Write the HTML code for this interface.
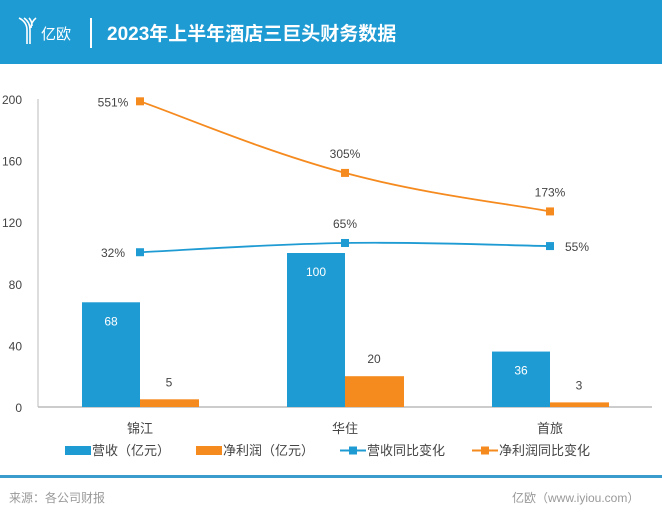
<!DOCTYPE html>
<html><head><meta charset="utf-8"><style>
body{margin:0;width:662px;height:519px;background:#fff;font-family:"Liberation Sans","Noto Sans CJK SC",sans-serif;overflow:hidden;position:relative}
.hdr{position:absolute;left:0;top:0;width:662px;height:64px;background:#1f9bd3}
.t{position:absolute;color:#fff}
.foot{position:absolute;font-size:12px;color:#999;top:489px}
</style></head><body>
<div class="hdr">
<svg width="30" height="30" style="position:absolute;left:17px;top:16px"><path d="M2 2 Q10 6 10 14 L10 28 M7 2 Q13 6 13 14 L13 28 M12 2 Q15 5 15 10 M19 2 Q14 6 14 12" stroke="#fff" stroke-width="1.6" fill="none"/></svg>
<div class="t" style="left:41px;top:23px;font-size:15px">亿欧</div>
<div style="position:absolute;left:90px;top:18px;width:2px;height:30px;background:#fff"></div>
<div class="t" style="left:107px;top:19px;font-size:19px;font-weight:bold">2023年上半年酒店三巨头财务数据</div>
</div>
<svg id="c" width="662" height="519" style="position:absolute;left:0;top:0"></svg>
<div style="position:absolute;left:0;top:475px;width:662px;height:3px;background:#3a9ccd"></div>
<div class="foot" style="left:9px">来源：各公司财报</div>
<div class="foot" style="left:512px">亿欧（www.iyiou.com）</div>
<script>
const categories=["锦江","华住","首旅"];
const revenue=[68,100,36];
const profit=[5,20,3];
const revGrowth=[100.5,106.5,104.5];
const revGrowthLabels=["32%","65%","55%"];
const profitGrowth=[198.5,152,127];
const profitGrowthLabels=["551%","305%","173%"];
const yTicks=[0,40,80,120,160,200];
const NS="http://www.w3.org/2000/svg";
const svg=document.getElementById('c');
const y=v=>407-v*1.54;
const xc=i=>140+i*205;
function el(tag,a,txt){const e=document.createElementNS(NS,tag);for(const k in a)e.setAttribute(k,a[k]);if(txt!=null)e.textContent=txt;svg.appendChild(e);return e;}
yTicks.forEach(t=>{const e=el('text',{x:22,y:y(t)+5,'text-anchor':'end','font-size':12,fill:'#444'},t);

});
let a=el('line',{x1:38,y1:99,x2:38,y2:407,stroke:'#bbb'});


a=el('line',{x1:38,y1:407,x2:652,y2:407,stroke:'#bbb','stroke-width':1.5});


categories.forEach((c,i)=>{
 let b=el('rect',{x:xc(i)-58,y:y(revenue[i]),width:58,height:407-y(revenue[i]),fill:'#1f9bd3'});
 
 
 let t=el('text',{x:xc(i)-29,y:y(revenue[i])+23,'text-anchor':'middle','font-size':12,fill:'#fff'},revenue[i]);
 
 
 b=el('rect',{x:xc(i),y:y(profit[i]),width:59,height:407-y(profit[i]),fill:'#f58a1f'});
 
 
 t=el('text',{x:xc(i)+29,y:y(profit[i])-13,'text-anchor':'middle','font-size':12,fill:'#444'},profit[i]);
 
 
 t=el('text',{x:xc(i),y:433,'text-anchor':'middle','font-size':13,fill:'#444'},c);
 
 
});
function smooth(vals){let p=vals.map((v,i)=>[xc(i),y(v)]);let d=`M${p[0][0]},${p[0][1]}`;
 for(let i=0;i<p.length-1;i++){const p0=p[Math.max(0,i-1)],p1=p[i],p2=p[i+1],p3=p[Math.min(p.length-1,i+2)];const k=0.2;
 d+=` C${p1[0]+(p2[0]-p0[0])*k},${p1[1]+(p2[1]-p0[1])*k} ${p2[0]-(p3[0]-p1[0])*k},${p2[1]-(p3[1]-p1[1])*k} ${p2[0]},${p2[1]}`;}return d;}
[[revGrowth,revGrowthLabels,'#1f9bd3','revenue-growth'],[profitGrowth,profitGrowthLabels,'#f58a1f','profit-growth']].forEach(([vals,labs,col,nm])=>{
 let l=el('path',{d:smooth(vals),stroke:col,'stroke-width':1.8,fill:'none'});
 
 
 vals.forEach((v,i)=>{
  let m=el('rect',{x:xc(i)-4,y:y(v)-4,width:8,height:8,fill:col});
  
  
  let tx=i==0?xc(i)-27:(i==2&&nm=='revenue-growth'?xc(i)+27:xc(i));
  let ty=(i==0||(i==2&&nm=='revenue-growth'))?y(v)+5:y(v)-15;
  let t=el('text',{x:tx,y:ty,'text-anchor':'middle','font-size':12,fill:'#444'},labs[i]);
  
  
 });
});
const leg=[[65,'bar','#1f9bd3','营收（亿元）'],[196,'bar','#f58a1f','净利润（亿元）'],[340,'line','#1f9bd3','营收同比变化'],[472,'line','#f58a1f','净利润同比变化']];
leg.forEach(([x,k,col,txt])=>{
 let g;
 if(k=='bar'){g=el('rect',{x:x,y:446,width:26,height:9,fill:col});}
 else{g=el('line',{x1:x,y1:450.5,x2:x+26,y2:450.5,stroke:col,'stroke-width':2});el('rect',{x:x+9,y:446.5,width:8,height:8,fill:col});}
 
 
 let t=el('text',{x:x+27,y:455,'font-size':13,fill:'#444'},txt);
 
 
});
</script>
</body></html>
